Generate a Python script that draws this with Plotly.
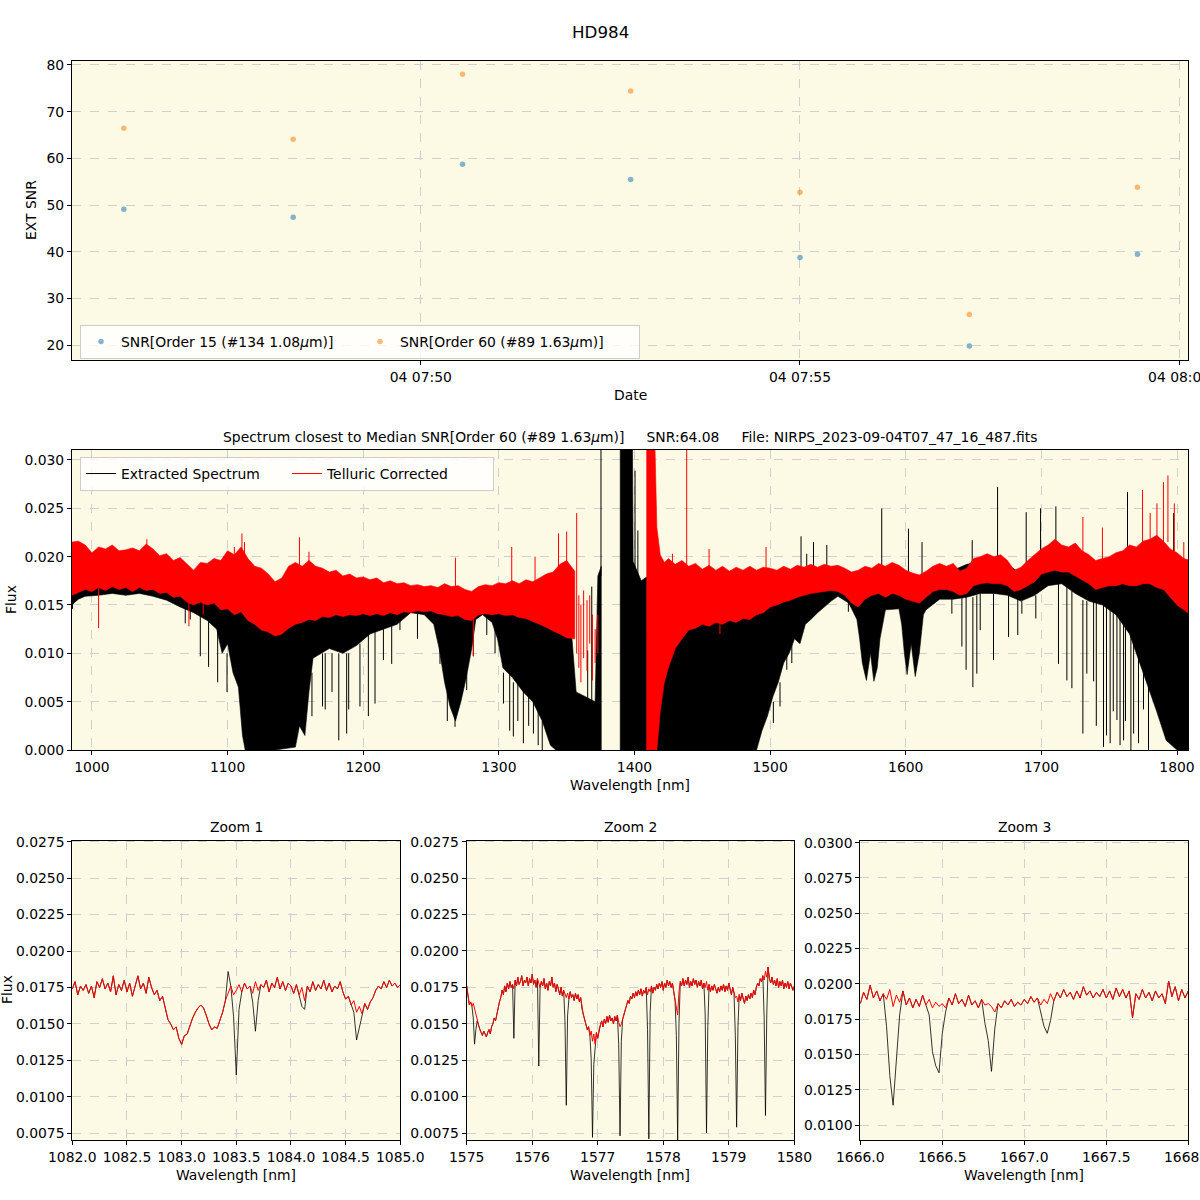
import numpy as np
import plotly.graph_objects as go

S = 1e-3  # flux values below are given in units of 1e-3

# ---------------- top panel: SNR vs time ----------------
obs_times = ["2023-09-04 07:46:05", "2023-09-04 07:48:19", "2023-09-04 07:50:33",
             "2023-09-04 07:52:46", "2023-09-04 07:55:00", "2023-09-04 07:57:14",
             "2023-09-04 07:59:27"]
snr_order15 = [49.1, 47.4, 58.75, 55.5, 38.8, 19.85, 39.5]
snr_order60 = [66.45, 64.08, 78.0, 74.4, 52.75, 26.6, 53.8]

# ---------------- middle panel: full spectrum (envelopes of dense noise) ----------------
red1_wl = list(range(985, 1351, 5)) + [1356]
red1_hi = [21.5, 21.6, 21.2, 20.4, 21.0, 20.8, 21.2, 20.6, 20.7, 20.9,
           20.6, 21.3, 20.8, 20.1, 20.3, 19.6, 19.9, 19.2, 18.6, 19.4,
           19.3, 19.8, 19.6, 20.6, 20.2, 21.0, 19.8, 19.0, 18.8, 18.2,
           17.4, 17.8, 19.0, 19.4, 19.0, 19.6, 19.0, 18.8, 18.4, 18.6,
           18.0, 18.2, 17.8, 17.9, 17.6, 17.8, 17.3, 17.5, 17.2, 17.3,
           17.0, 17.1, 16.9, 17.0, 16.8, 17.2, 16.9, 17.0, 16.6, 16.4,
           16.9, 17.1, 17.0, 17.3, 17.2, 17.5, 17.2, 17.6, 17.4, 17.8,
           18.2, 18.4, 19.2, 19.6, 18.5]
red1_lo = [16.0, 16.3, 16.6, 16.4, 16.8, 16.5, 16.9, 16.6, 16.8, 16.4,
           16.8, 16.5, 16.6, 16.2, 16.3, 15.8, 15.9, 15.3, 15.0, 15.3,
           15.0, 15.2, 14.5, 14.6, 14.0, 14.3, 13.4, 13.0, 12.4, 12.2,
           11.8, 12.0, 12.6, 13.0, 13.2, 13.5, 13.4, 13.8, 13.7, 14.0,
           13.8, 14.0, 13.9, 14.1, 13.9, 14.1, 13.9, 14.2, 14.0, 14.3,
           14.2, 14.4, 14.3, 14.4, 14.1, 14.0, 13.8, 13.9, 13.5, 13.4,
           14.0, 14.1, 14.0, 14.1, 13.9, 14.0, 13.7, 13.6, 13.3, 13.0,
           12.7, 12.3, 12.0, 11.6, 11.5]

red2_wl = [1409, 1415, 1416.5, 1419, 1422] + list(range(1425, 1811, 5))
red2_hi = [32.0, 32.0, 23.0, 20.2, 19.4,
           19.8, 19.2, 19.6, 19.0, 19.3, 18.7, 19.1, 18.6, 19.0, 18.5,
           18.9, 18.6, 19.0, 18.6, 18.9, 18.8, 18.6, 19.0, 18.7, 19.1,
           18.9, 19.2, 18.9, 19.2, 19.0, 19.1, 18.8, 18.4, 18.6, 19.0,
           18.8, 19.3, 19.0, 19.4, 19.1, 18.6, 18.3, 18.1, 18.5, 19.0,
           19.3, 19.0, 19.3, 18.5, 18.8, 19.8, 20.0, 20.3, 20.0, 20.2,
           19.6, 18.6, 18.9, 19.6, 20.2, 20.8, 21.2, 21.8, 21.2, 21.0,
           21.4, 20.6, 20.2, 19.6, 19.8, 20.0, 20.4, 20.6, 21.2, 21.0,
           21.6, 21.8, 22.2, 21.6, 20.8, 20.4, 19.8, 19.6]
red2_lo = [0.0, 0.0, 0.0, 4.0, 7.0,
           8.5, 10.5, 11.5, 12.4, 12.6, 13.0, 12.8, 13.2, 13.0, 13.4,
           13.2, 13.6, 13.5, 14.0, 14.2, 14.8, 15.0, 15.3, 15.5, 15.8,
           16.0, 16.2, 16.3, 16.4, 16.5, 16.4, 16.0, 15.2, 14.8, 15.6,
           16.0, 16.2, 15.8, 16.2, 16.0, 15.6, 15.4, 15.2, 15.8, 16.4,
           16.6, 16.6, 16.4, 16.0, 16.2, 17.0, 17.2, 17.3, 17.2, 17.2,
           17.0, 16.4, 16.6, 17.0, 17.4, 18.2, 18.4, 18.6, 18.4, 18.4,
           18.0, 17.6, 17.2, 16.6, 16.8, 17.0, 17.0, 17.2, 17.0, 17.0,
           17.2, 17.2, 16.8, 16.6, 15.8, 15.0, 14.5, 14.0]

black1_wl = [985, 990, 995, 1005, 1015, 1025, 1035, 1045, 1055, 1065,
             1075, 1085, 1092, 1096, 1100, 1104, 1108, 1111, 1113, 1135,
             1150, 1153, 1157, 1160, 1163, 1175, 1185, 1195, 1205, 1215,
             1225, 1235, 1245, 1252, 1256, 1260, 1264, 1268, 1272, 1276,
             1280, 1283, 1288, 1295, 1299, 1303, 1310, 1318, 1325, 1332,
             1338, 1342, 1352, 1357, 1371, 1373, 1375.5]
black1_hi = [20.5, 20.5, 20.5, 20.0, 20.0, 20.0, 20.0, 20.0, 19.5, 19.0,
             18.0, 18.5, 19.0, 19.0, 19.0, 19.0, 19.0, 19.0, 18.8, 17.0,
             18.5, 18.5, 18.5, 18.3, 18.0, 17.8, 17.5, 17.0, 17.0, 16.8,
             16.6, 16.4, 16.3, 16.2, 16.2, 16.2, 16.2, 16.0, 16.0, 16.0,
             16.0, 16.0, 16.2, 16.4, 16.6, 16.6, 16.6, 16.6, 16.8, 17.0,
             17.5, 17.0, 15.0, 6.0, 5.0, 18.0, 19.0]
black1_lo = [15.0, 15.6, 15.9, 16.0, 16.2, 16.0, 16.2, 15.9, 15.5, 14.8,
             14.2, 13.4, 12.5, 10.0, 11.0, 8.0, 6.5, 1.5, 0.0, 0.0,
             0.3, 2.5, 1.5, 6.0, 9.5, 10.5, 10.0, 10.8, 12.0, 12.5,
             13.0, 14.2, 14.0, 13.0, 10.5, 7.0, 4.5, 3.0, 5.0, 7.5,
             10.5, 13.5, 14.0, 13.2, 11.5, 8.5, 7.5, 6.0, 5.0, 3.0,
             0.5, 0.0, 0.0, 0.0, 0.0, 0.0, 0.0]

black2_wl = [1389.5, 1398.5, 1399, 1405, 1410, 1490, 1494, 1498, 1502, 1506,
             1510, 1514, 1518, 1522, 1526, 1530, 1535, 1540, 1545, 1550,
             1558, 1564, 1566, 1568, 1571, 1574, 1576.5, 1579, 1581, 1585,
             1595, 1597, 1599, 1601, 1604, 1607, 1610, 1613, 1615, 1625,
             1635, 1645, 1655, 1665, 1675, 1685, 1695, 1705, 1715, 1725,
             1735, 1745, 1755, 1765, 1775, 1785, 1792, 1800, 1810]
black2_hi = [32.0, 32.0, 19.5, 17.5, 18.0, 18.0, 18.0, 18.2, 18.3, 18.4,
             18.4, 18.5, 18.5, 18.5, 18.6, 18.6, 18.6, 18.6, 18.6, 18.6,
             18.0, 17.8, 17.8, 17.8, 18.0, 18.0, 18.0, 18.2, 18.4, 18.6,
             18.6, 18.6, 18.2, 18.0, 17.8, 17.8, 17.8, 18.0, 18.2, 18.6,
             18.6, 19.2, 19.5, 19.5, 19.2, 18.2, 19.5, 20.0, 20.5, 20.0,
             19.6, 19.4, 19.8, 20.0, 20.5, 20.5, 20.5, 20.0, 19.0]
black2_lo = [0.0, 0.0, 0.0, 0.0, 0.0, 0.0, 2.0, 3.5, 5.5, 7.0,
             9.0, 10.0, 11.5, 11.0, 13.0, 13.5, 14.2, 14.8, 15.4, 15.9,
             15.2, 13.5, 11.5, 9.0, 7.2, 10.0, 7.1, 8.5, 11.5, 14.5,
             14.6, 13.0, 10.0, 7.8, 11.0, 7.6, 10.0, 14.0, 14.5, 15.6,
             15.6, 15.8, 16.2, 16.2, 16.0, 15.4, 16.0, 17.0, 17.2, 16.2,
             15.4, 15.0, 14.0, 12.0, 8.0, 4.0, 1.0, 0.0, 0.0]

# isolated deep / tall features (wavelength, bottom, top)
black_spike_wl = [985.7, 1068.8, 1072.5, 1079.9, 1086.0, 1092.7, 1099.6, 1162.2, 1170.0, 1172.0,
                  1177.0, 1182.0, 1187.8, 1189.3, 1197.6, 1203.8, 1208.7, 1214.9, 1221.0, 1227.1,
                  1240.0, 1256.6, 1262.0, 1267.7, 1276.3, 1281.2, 1291.1, 1297.2, 1303.4, 1308.0,
                  1310.7, 1314.0, 1318.1, 1322.0, 1325.5, 1329.0, 1332.0, 1365.5, 1368.5, 1375.3,
                  1400.4, 1402.5, 1502.4, 1507.3, 1512.3, 1516.0, 1522.8, 1523.3, 1527.0, 1527.5,
                  1532.0, 1541.8, 1557.7, 1582.3, 1602.0, 1612.0, 1634.0, 1641.4, 1644.5, 1649.0,
                  1649.5, 1652.4, 1654.9, 1664.7, 1667.7, 1675.8, 1682.6, 1685.6, 1688.8, 1695.9,
                  1699.4, 1710.7, 1712.6, 1718.8, 1722.5, 1730.6, 1733.5, 1738.5, 1740.5, 1745.8,
                  1748.0, 1750.7, 1753.0, 1755.7, 1758.0, 1760.6, 1762.0, 1763.5, 1766.0, 1768.0,
                  1771.6, 1775.3, 1779.0, 1797.5]
black_spike_lo = [14.6, 13.1, 13.5, 9.7, 8.6, 7.0, 6.0, 3.5, 4.5, 4.2,
                  6.0, 1.0, 1.7, 4.2, 4.5, 3.5, 4.8, 9.3, 8.9, 12.4,
                  11.5, 8.9, 3.0, 2.4, 6.2, 9.7, 11.9, 10.0, 4.8, 2.0,
                  1.4, 3.0, 0.7, 2.5, 1.7, 0.5, 0.0, 4.0, 4.0, 18.0,
                  18.0, 18.0, 2.8, 4.5, 8.3, 9.0, 17.0, 13.1, 17.0, 13.8,
                  17.0, 17.0, 14.3, 17.0, 17.0, 17.0, 14.1, 10.7, 8.3, 17.5,
                  6.5, 7.9, 12.4, 9.3, 18.0, 11.7, 11.9, 14.1, 18.0, 13.6,
                  19.0, 19.0, 8.9, 7.2, 6.4, 1.7, 7.9, 7.1, 2.5, 0.3,
                  1.5, 0.7, 4.0, 3.1, 0.5, 1.0, 3.0, 19.0, 0.0, 1.7,
                  0.7, 4.2, 0.0, 19.0]
black_spike_hi = [16.5, 15.5, 15.5, 15.0, 14.5, 13.0, 10.0, 8.0, 10.0, 10.0,
                  10.0, 10.0, 10.0, 10.0, 11.0, 12.0, 12.5, 13.0, 13.0, 14.0,
                  14.5, 12.0, 6.0, 4.0, 8.0, 13.0, 14.0, 13.5, 8.0, 8.0,
                  7.0, 7.0, 7.0, 6.0, 5.0, 4.0, 3.0, 10.3, 16.9, 32.0,
                  28.9, 22.7, 5.0, 7.0, 10.0, 11.0, 22.1, 13.0, 20.3, 14.0,
                  21.5, 21.2, 15.5, 25.0, 22.9, 21.5, 15.6, 15.8, 15.8, 21.7,
                  15.8, 16.0, 16.2, 16.2, 27.2, 16.0, 15.6, 15.4, 24.6, 16.0,
                  25.0, 25.2, 17.2, 17.0, 16.5, 15.5, 15.4, 15.4, 15.2, 15.0,
                  15.0, 14.8, 14.5, 14.2, 14.0, 13.0, 13.0, 26.7, 12.0, 11.0,
                  10.0, 9.0, 8.0, 24.5]

red_spike_wl = [1004.9, 1040.5, 1071.5, 1082.0, 1105.0, 1110.6, 1112.5, 1153.0, 1160.0, 1268.0,
                1281.2, 1309.5, 1326.7, 1344.0, 1350.0, 1357.4, 1359.0, 1360.5, 1362.5, 1365.0,
                1367.0, 1369.0, 1371.0, 1373.0, 1428.0, 1438.5, 1455.0, 1463.0, 1497.0, 1730.6,
                1745.0, 1774.6, 1780.2, 1785.2, 1790.0, 1793.3, 1798.0, 1805.0]
red_spike_lo = [12.6, 19.5, 12.8, 14.0, 19.5, 19.5, 19.5, 19.0, 18.8, 16.8,
                9.7, 17.0, 17.2, 18.5, 19.0, 10.0, 8.5, 7.0, 9.5, 8.2,
                11.0, 7.2, 9.0, 10.0, 19.0, 18.5, 18.5, 12.0, 18.5, 20.5,
                19.5, 21.0, 21.5, 21.5, 21.5, 21.5, 20.5, 19.5]
red_spike_hi = [16.8, 21.8, 15.5, 15.5, 21.0, 22.4, 21.5, 22.0, 20.5, 19.9,
                14.0, 21.0, 20.0, 22.4, 22.6, 24.5, 16.0, 15.0, 16.5, 15.5,
                16.0, 14.0, 12.5, 14.0, 20.3, 32.0, 20.8, 13.5, 21.0, 24.1,
                23.0, 26.9, 24.5, 25.5, 27.7, 28.4, 25.5, 21.5]

# ---------------- bottom panels: zooms ----------------
zoom1_start, zoom1_step = 1082.0, 0.025
zoom1_red = [17.4, 17.9, 17.0, 17.6, 17.3, 17.7, 17.1, 17.6, 16.8, 17.9,
             17.5, 18.1, 17.4, 17.8, 17.2, 18.3, 17.0, 17.7, 17.3, 18.0,
             17.2, 17.8, 16.9, 17.6, 18.3, 17.4, 17.8, 17.1, 18.2, 17.5,
             17.0, 17.3, 16.6, 16.9, 16.0, 15.3, 15.0, 14.6, 14.8, 14.0,
             13.6, 14.2, 14.3, 14.9, 15.4, 15.8, 16.1, 16.3, 16.1, 15.6,
             15.0, 14.6, 14.8, 14.7, 15.3, 15.8, 16.6, 17.1, 17.6, 17.0,
             17.3, 17.7, 17.2, 17.8, 17.4, 17.6, 17.1, 17.9, 17.3, 17.7,
             17.5, 18.0, 17.2, 17.8, 17.5, 18.2, 17.4, 17.9, 17.3, 17.8,
             17.6, 17.1, 17.7, 17.0, 17.5, 16.6, 17.6, 17.2, 17.9, 17.3,
             17.7, 17.4, 18.0, 17.3, 17.8, 17.2, 17.6, 17.4, 17.9, 17.2,
             16.7, 16.9, 16.3, 16.6, 15.8, 16.2, 15.7, 16.4, 16.0, 16.5,
             16.8, 17.3, 17.6, 17.4, 17.9, 17.5, 18.0, 17.6, 17.8, 17.5,
             17.7]
zoom1_black_lines = [(1083.425, 18.6), (1083.475, 15.5), (1083.500, 11.5), (1083.525, 16.0),
                     (1083.650, 16.5), (1083.675, 14.5), (1083.700, 16.6), (1084.100, 16.2),
                     (1084.125, 16.0), (1084.575, 15.8), (1084.600, 13.9), (1084.625, 14.8)]

zoom2_start, zoom2_step = 1575.0, 0.02
zoom2_red = [17.6, 16.8, 16.3, 16.5, 16.2, 16.4,
             16.0, 15.6, 15.2, 14.9, 14.6, 14.4, 14.2, 14.5, 14.3, 14.1,
             14.4, 14.6, 14.3, 14.8, 15.0, 15.4, 15.2, 15.7, 16.0, 16.5,
             16.8, 17.3, 17.0, 17.6, 17.2, 17.8, 17.4, 17.9, 17.5, 17.7,
             17.4, 18.0, 17.6, 18.2, 17.7, 17.9, 18.3, 17.6, 18.0, 17.8,
             18.2, 17.6, 18.1, 17.8, 18.4, 17.7, 18.0, 17.5, 18.1, 17.8,
             17.5, 17.9, 17.6, 18.1, 17.4, 17.8, 17.3, 17.9, 17.6, 18.2,
             17.5, 17.8, 17.2, 17.7, 17.4, 17.0, 17.5, 16.9, 17.3, 17.0,
             16.8, 17.1, 16.7, 17.2, 16.8, 17.0, 16.6, 17.1, 16.7, 17.0,
             16.5, 16.8, 16.0, 15.6, 15.3, 15.0, 14.6, 14.8, 14.2, 14.5,
             13.8, 14.3, 13.6, 14.4, 14.0, 14.6, 14.9, 15.2, 14.8, 15.3,
             15.0, 15.5, 15.1, 15.6, 15.2, 15.4, 15.0, 15.5, 15.2, 15.6,
             15.1, 14.8, 15.0, 15.3, 15.6, 16.0, 16.3, 16.6, 16.4, 16.9,
             16.7, 17.1, 16.8, 17.2, 16.9, 17.3, 17.0, 17.4, 16.9, 17.3,
             17.1, 17.5, 17.0, 17.4, 17.2, 17.6, 17.1, 17.5, 17.3, 17.7,
             17.4, 17.8, 17.5, 17.9, 17.3, 17.8, 17.5, 18.0, 17.6, 17.9,
             17.5, 17.8, 17.2, 16.6, 16.0, 15.6, 17.2, 17.9, 17.6, 18.1,
             17.6, 18.0, 17.7, 18.2, 17.5, 17.9, 17.6, 18.1, 17.7, 18.0,
             17.5, 17.9, 17.6, 18.0, 17.4, 17.8, 17.5, 17.9, 17.3, 17.7,
             17.2, 17.6, 17.3, 17.7, 17.4, 17.1, 17.5, 17.2, 17.6, 17.3,
             17.7, 17.2, 17.6, 17.3, 17.8, 17.4, 17.0, 17.5, 17.1, 16.8,
             16.9, 16.5, 17.0, 16.6, 17.1, 16.7, 16.4, 16.9, 16.6, 17.0,
             16.7, 17.1, 16.8, 17.3, 17.0, 17.5, 17.8, 17.6, 18.1, 17.9,
             18.3, 18.0, 18.6, 18.2, 18.9, 18.1, 17.8, 18.2, 17.7, 18.0,
             17.6, 18.1, 17.5, 17.9, 17.6, 18.0, 17.4, 17.8, 17.5, 17.9,
             17.4, 17.8, 17.5, 17.3, 17.6]
zoom2_black_lines = [(1575.10, 15.4), (1575.12, 13.6), (1575.14, 14.6), (1575.72, 14.0),
                     (1576.10, 12.1), (1576.50, 15.2), (1576.52, 9.4), (1576.54, 15.6),
                     (1576.90, 12.6), (1576.92, 7.2), (1576.94, 12.2),
                     (1577.32, 13.6), (1577.34, 7.3), (1577.36, 13.8),
                     (1577.76, 14.6), (1577.78, 7.1), (1577.80, 15.8),
                     (1578.20, 14.2), (1578.22, 7.0), (1578.24, 15.0),
                     (1578.64, 15.6), (1578.66, 7.5), (1578.68, 14.8),
                     (1579.10, 14.2), (1579.12, 7.9), (1579.14, 14.8),
                     (1579.54, 15.4), (1579.56, 8.7), (1579.58, 15.6)]

zoom3_start, zoom3_step = 1666.0, 0.02
zoom3_red = [18.6, 19.4, 18.9, 19.9, 19.0, 19.5, 18.8, 19.3, 18.9, 19.6,
             18.4, 19.2, 18.7, 19.5, 18.5, 19.0, 18.3, 18.9, 18.4, 19.2,
             18.5, 18.9, 18.3, 18.7, 18.4, 18.6, 18.3, 19.0, 18.5, 19.3,
             18.6, 18.9, 18.4, 19.2, 18.5, 18.8, 18.3, 18.9, 18.5, 18.6,
             18.4, 18.0, 18.6, 18.3, 18.8, 18.5, 18.9, 18.4, 18.7, 18.5,
             18.9, 18.6, 19.1, 18.7, 19.0, 18.5, 18.9, 18.6, 19.3, 18.8,
             19.4, 19.0, 19.6, 19.1, 19.4, 18.9, 19.5, 19.0, 19.8, 19.2,
             19.5, 19.0, 19.4, 19.1, 19.6, 19.0, 19.5, 18.9, 19.7, 19.1,
             19.6, 19.0, 19.5, 17.6, 19.3, 18.9, 19.6, 19.0, 19.4, 18.8,
             19.5, 19.0, 19.3, 18.6, 20.2, 19.1, 19.8, 18.8, 19.6, 19.0,
             19.5]
zoom3_black_lines = [(1666.16, 17.0), (1666.18, 13.5), (1666.20, 11.4), (1666.22, 15.0),
                     (1666.24, 17.8), (1666.42, 17.8), (1666.44, 15.2), (1666.46, 14.2),
                     (1666.48, 13.7), (1666.50, 16.5), (1666.52, 18.0), (1666.76, 17.2),
                     (1666.78, 16.0), (1666.80, 13.8), (1666.82, 16.8), (1667.10, 18.0),
                     (1667.12, 17.0), (1667.14, 16.5), (1667.16, 17.4)]


# ---------------- helpers ----------------
def band_polygon(segments):
    xs, ys = [], []
    for wl, hi, lo in segments:
        n = min(len(wl), len(hi), len(lo))
        wl, hi, lo = list(wl[:n]), list(hi[:n]), list(lo[:n])
        xs += wl + wl[::-1] + [wl[0], None]
        ys += [v * S for v in hi] + [v * S for v in lo[::-1]] + [hi[0] * S, None]
    return xs, ys


def spikes(wl, lo, hi):
    xs, ys = [], []
    for w, a, b in zip(wl, lo, hi):
        xs += [w, w, None]
        ys += [a * S, b * S, None]
    return xs, ys


def grid(start, step, n):
    return [round(start + step * i, 4) for i in range(n)]


def with_lines(base, start, step, lines):
    out = list(base)
    for w, f in lines:
        out[int(round((w - start) / step))] = f
    return out


FONT = "DejaVu Sans"
FS = 13.9
BG = "#fcfae4"
W = 1200.0


def px(x):
    return x / W


def py(y):
    return 1 - y / W


fig = go.Figure()

# top panel
fig.add_trace(go.Scatter(x=obs_times, y=snr_order15, mode="markers",
                         name="SNR[Order 15 (#134 1.08<i>μ</i>m)]",
                         marker=dict(color="#1f77b4", size=5.5, opacity=0.55),
                         xaxis="x", yaxis="y", legend="legend"))
fig.add_trace(go.Scatter(x=obs_times, y=snr_order60, mode="markers",
                         name="SNR[Order 60 (#89 1.63<i>μ</i>m)]",
                         marker=dict(color="#ff7f0e", size=5.5, opacity=0.55),
                         xaxis="x", yaxis="y", legend="legend"))

# middle panel
bx, by = band_polygon([(black1_wl, black1_hi, black1_lo), (black2_wl, black2_hi, black2_lo)])
fig.add_trace(go.Scatter(x=bx, y=by, mode="lines", fill="toself", fillcolor="black",
                         line=dict(color="black", width=0.6), showlegend=False,
                         hoverinfo="skip", xaxis="x2", yaxis="y2"))
sx, sy = spikes(black_spike_wl, black_spike_lo, black_spike_hi)
fig.add_trace(go.Scatter(x=sx, y=sy, mode="lines", line=dict(color="black", width=1),
                         name="Extracted Spectrum", legend="legend2",
                         xaxis="x2", yaxis="y2"))
rx, ry = band_polygon([(red1_wl, red1_hi, red1_lo), (red2_wl, red2_hi, red2_lo)])
fig.add_trace(go.Scatter(x=rx, y=ry, mode="lines", fill="toself", fillcolor="red",
                         line=dict(color="red", width=0.6), showlegend=False,
                         hoverinfo="skip", xaxis="x2", yaxis="y2"))
sx, sy = spikes(red_spike_wl, red_spike_lo, red_spike_hi)
fig.add_trace(go.Scatter(x=sx, y=sy, mode="lines", line=dict(color="red", width=1),
                         name="Telluric Corrected", legend="legend2",
                         xaxis="x2", yaxis="y2"))

# zoom panels
zooms = [
    (zoom1_start, zoom1_step, zoom1_red, zoom1_black_lines, "x3", "y3"),
    (zoom2_start, zoom2_step, zoom2_red, zoom2_black_lines, "x4", "y4"),
    (zoom3_start, zoom3_step, zoom3_red, zoom3_black_lines, "x5", "y5"),
]
for start, step, red, lines, xa, ya in zooms:
    wl = grid(start, step, len(red))
    black = with_lines(red, start, step, lines)
    fig.add_trace(go.Scatter(x=wl, y=[v * S for v in black], mode="lines",
                             line=dict(color="black", width=0.8), showlegend=False,
                             xaxis=xa, yaxis=ya))
    fig.add_trace(go.Scatter(x=wl, y=[v * S for v in red], mode="lines",
                             line=dict(color="red", width=1.0), showlegend=False,
                             xaxis=xa, yaxis=ya))

axis_common = dict(showline=True, linecolor="black", linewidth=1, mirror=True,
                   ticks="outside", ticklen=4, tickwidth=1, tickcolor="black",
                   showgrid=True, gridcolor="#cfcfcf", griddash="dash", gridwidth=1,
                   zeroline=False, automargin=False, ticklabeloverflow="allow",
                   tickfont=dict(family=FONT, size=FS, color="black"))

zoom_ticks_a = [0.0075, 0.01, 0.0125, 0.015, 0.0175, 0.02, 0.0225, 0.025, 0.0275]
zoom_ticks_b = [0.01, 0.0125, 0.015, 0.0175, 0.02, 0.0225, 0.025, 0.0275, 0.03]

fig.update_layout(
    width=1200, height=1200, margin=dict(l=0, r=0, t=0, b=0, autoexpand=False),
    paper_bgcolor="white", plot_bgcolor=BG,
    font=dict(family=FONT, size=FS, color="black"),
    xaxis=dict(axis_common, domain=[px(72), px(1188)], anchor="y", type="date",
               range=["2023-09-04 07:45:24", "2023-09-04 08:00:07"],
               tickvals=["2023-09-04 07:50:00", "2023-09-04 07:55:00", "2023-09-04 08:00:00"],
               ticktext=["04 07:50", "04 07:55", "04 08:00"]),
    yaxis=dict(axis_common, domain=[py(360), py(60.7)], anchor="x",
               range=[16.85, 80.9], tickvals=[20, 30, 40, 50, 60, 70, 80]),
    xaxis2=dict(axis_common, domain=[px(72), px(1188)], anchor="y2",
                range=[985.3, 1808.1], tickvals=list(range(1000, 1801, 100))),
    yaxis2=dict(axis_common, domain=[py(750), py(450)], anchor="x2",
                range=[0, 0.03103], tickvals=[0, 0.005, 0.01, 0.015, 0.02, 0.025, 0.03],
                tickformat=".3f"),
    xaxis3=dict(axis_common, domain=[px(72.3), px(400.3)], anchor="y3",
                range=[1082, 1085], tickvals=[1082, 1082.5, 1083, 1083.5, 1084, 1084.5, 1085],
                tickformat=".1f"),
    yaxis3=dict(axis_common, domain=[py(1140), py(840.7)], anchor="x3",
                range=[0.00704, 0.02757], tickformat=".4f", tickvals=zoom_ticks_a),
    xaxis4=dict(axis_common, domain=[px(466.7), px(794.3)], anchor="y4",
                range=[1575, 1580], tickvals=[1575, 1576, 1577, 1578, 1579, 1580]),
    yaxis4=dict(axis_common, domain=[py(1140), py(840.7)], anchor="x4",
                range=[0.00702, 0.02757], tickformat=".4f", tickvals=zoom_ticks_a),
    xaxis5=dict(axis_common, domain=[px(860.3), px(1188.3)], anchor="y5",
                range=[1666, 1668], tickvals=[1666, 1666.5, 1667, 1667.5, 1668],
                tickformat=".1f"),
    yaxis5=dict(axis_common, domain=[py(1140), py(840.7)], anchor="x5",
                range=[0.00894, 0.03014], tickformat=".4f", tickvals=zoom_ticks_b),
    legend=dict(x=px(80), y=py(325), xanchor="left", yanchor="top", orientation="h",
                bgcolor="rgba(255,255,255,0.8)", bordercolor="#cccccc", borderwidth=1,
                font=dict(family=FONT, size=FS), entrywidth=234, entrywidthmode="pixels"),
    legend2=dict(x=px(80), y=py(457), xanchor="left", yanchor="top", orientation="h",
                 bgcolor="rgba(255,255,255,0.8)", bordercolor="#cccccc", borderwidth=1,
                 font=dict(family=FONT, size=FS), entrywidth=161, entrywidthmode="pixels"),
)

ann = []


def text(t, x, y, size=FS, angle=0, xanchor="center"):
    ann.append(dict(text=t, x=px(x), y=py(y), xref="paper", yref="paper", showarrow=False,
                    xanchor=xanchor, yanchor="middle", textangle=angle,
                    font=dict(family=FONT, size=size, color="black")))


text("HD984", 600, 32, size=16.7)
text("EXT SNR", 31, 210, angle=-90)
text("Date", 630, 395)
text("Spectrum closest to Median SNR[Order 60 (#89 1.63<i>μ</i>m)]\u00a0\u00a0\u00a0\u00a0\u00a0"
     "SNR:64.08\u00a0\u00a0\u00a0\u00a0\u00a0File: NIRPS_2023-09-04T07_47_16_487.fits",
     630, 437)
text("Flux", 11, 600, angle=-90)
text("Wavelength [nm]", 630, 785)
text("Zoom 1", 236, 827)
text("Zoom 2", 630, 827)
text("Zoom 3", 1024, 827)
for cx in (236, 630, 1024):
    text("Wavelength [nm]", cx, 1175)
text("Flux", 7, 990, angle=-90)
fig.update_layout(annotations=ann)

fig.write_html("out.html")
